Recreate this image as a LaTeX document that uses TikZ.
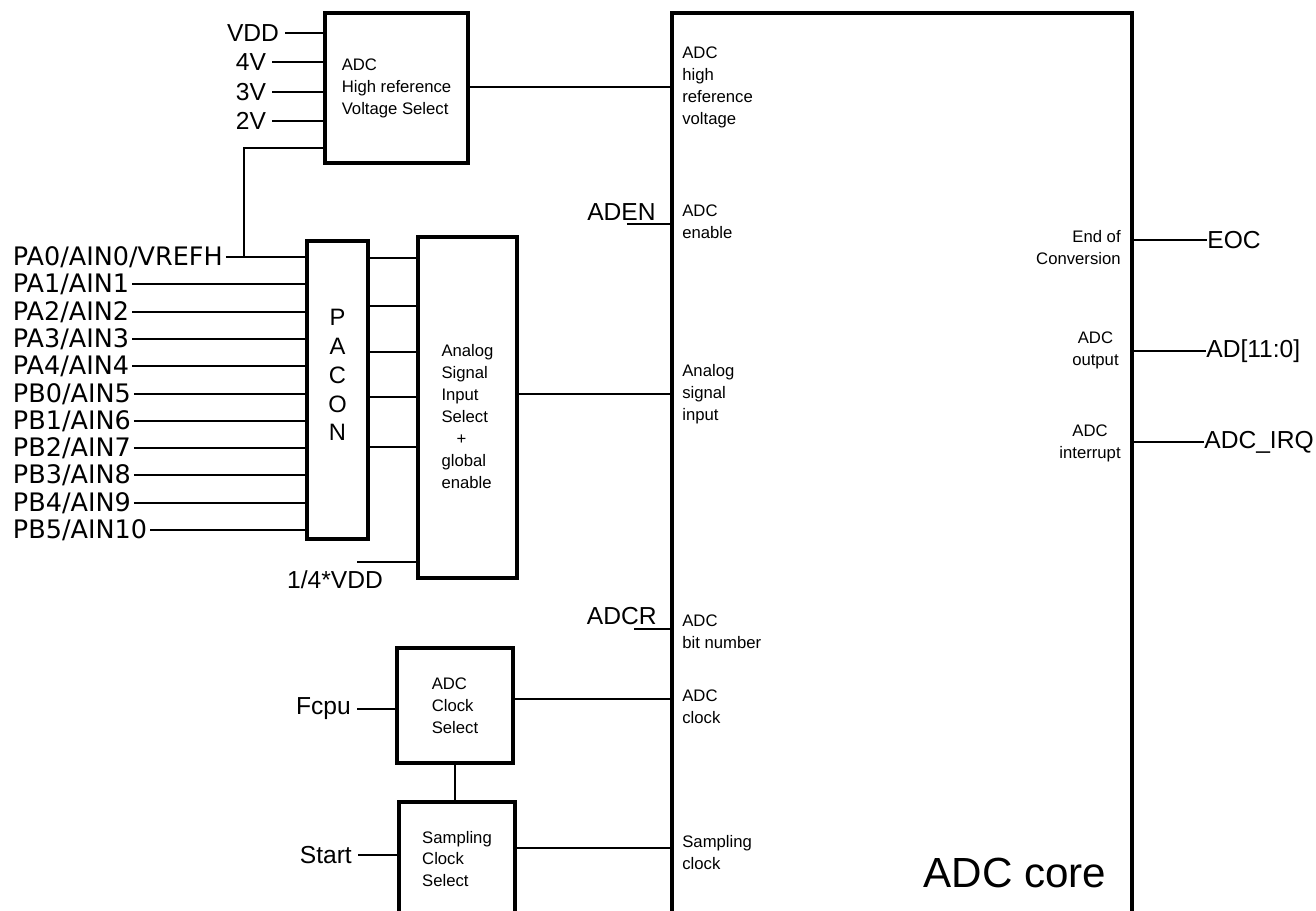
\documentclass[tikz,border=0pt]{standalone}
\usepackage{fontspec}
\setmainfont{Liberation Sans}
\newfontfamily\portfont{DejaVu Sans}
\usepackage{tikz}
\usetikzlibrary{positioning,calc}
\newlength\px
\setlength\px{0.02cm}
\tikzset{
  blk/.style={draw,line width=2.3pt,inner sep=0pt,font=\fontsize{9.5}{12.5}\selectfont,align=left},
  pin/.style={font=\fontsize{9.5}{12.5}\selectfont,align=left,inner sep=0pt},
  sig/.style={font=\fontsize{14}{16.8}\selectfont},
  port/.style={font=\portfont\fontsize{14.5}{17}\selectfont,inner sep=1.5pt,anchor=west},
  wire/.style={line width=1pt},
}
\begin{document}
\begin{tikzpicture}[x=0.02cm,y=-0.02cm]
\useasboundingbox (0,0) rectangle (1316,911);
\clip (0,0) rectangle (1316,911);
\node[blk,minimum width=143*\px,minimum height=150*\px] (vsel) at (396.5,88) {ADC\\High reference\\Voltage Select};
\node[blk,minimum width=61*\px,minimum height=298*\px,label={[align=center,font=\fontsize{13.5}{16.4}\selectfont,yshift=8.5pt]center:P\\A\\C\\O\\N}] (pacon) at (337.5,390) {};
\node[blk,minimum width=99*\px,minimum height=341*\px,label={[pin,yshift=-5pt]center:Analog\\Signal\\Input\\Select\\\hspace*{0.9em}+\\global\\enable}] (asel) at (467.5,407.5) {};
\node[blk,minimum width=116*\px,minimum height=115*\px] (clk) at (455,705.5) {ADC\\Clock\\Select};
\node[blk,minimum width=116*\px,minimum height=114*\px] (smp) at (457,859) {Sampling\\Clock\\Select};
\node[blk,minimum width=460*\px,minimum height=1000*\px] (core) at (902,513) {};
\node[font=\fontsize{24}{28}\selectfont,inner sep=0pt] (cname) at (1015,873) {ADC core};
\node[pin,anchor=west] (pref) at (682,87) {ADC\\high\\reference\\voltage};
\node[pin,anchor=west] (pen) at (682,222) {ADC\\enable};
\node[pin,anchor=west] (pain) at (682,394) {Analog\\signal\\input};
\node[pin,anchor=west] (pbit) at (682,632) {ADC\\bit number};
\node[pin,anchor=west] (pclk) at (682,707) {ADC\\clock};
\node[pin,anchor=west] (psmp) at (682,853) {Sampling\\clock};
\node[pin,anchor=east,align=right] (peoc) at (1121,248) {End of\\Conversion};
\node[pin,anchor=east,align=center] (pout) at (1119,350) {ADC\\output};
\node[pin,anchor=east,align=center] (pirq) at (1121,443) {ADC\\interrupt};
\node[sig] (v0) at (253,33) {VDD};
\node[sig] (v1) at (251,62) {4V};
\node[sig] (v2) at (251,92) {3V};
\node[sig] (v3) at (251,121) {2V};
\node[port] (p0) at (10,257) {PA0/AIN0/VREFH};
\node[port] (p1) at (10,284) {PA1/AIN1};
\node[port] (p2) at (10,312) {PA2/AIN2};
\node[port] (p3) at (10,339) {PA3/AIN3};
\node[port] (p4) at (10,366) {PA4/AIN4};
\node[port] (p5) at (10,394) {PB0/AIN5};
\node[port] (p6) at (10,421) {PB1/AIN6};
\node[port] (p7) at (10,448) {PB2/AIN7};
\node[port] (p8) at (10,475) {PB3/AIN8};
\node[port] (p9) at (10,503) {PB4/AIN9};
\node[port] (p10) at (10,530) {PB5/AIN10};
\node[sig] (q) at (335,580) {1/4*VDD};
\coordinate (qe) at (357,562);
\coordinate (t) at (244,257);
\node[sig,anchor=south east,inner xsep=0pt,inner ysep=2pt] (en) at (656,224) {ADEN};
\node[sig,anchor=south east,inner xsep=0pt,inner ysep=2pt] (cr) at (657,629) {ADCR};
\node[sig,anchor=east] (f) at (357,709) {Fcpu};
\node[sig,anchor=east] (s) at (358,855) {Start};
\node[sig,anchor=west,inner xsep=0pt] (eoc) at (1207,240) {EOC};
\node[sig,anchor=west,inner xsep=0pt] (ad) at (1206,351) {AD[11:0]};
\node[sig,anchor=west,inner xsep=0pt] (irq) at (1204,442) {ADC\_IRQ};
\draw[wire] (v0.east) -- (vsel.west |- v0.east);
\draw[wire] (v1.east) -- (vsel.west |- v1.east);
\draw[wire] (v2.east) -- (vsel.west |- v2.east);
\draw[wire] (v3.east) -- (vsel.west |- v3.east);
\draw[wire] (t) |- ($(vsel.south west)+(0,-17)$);
\draw[wire] (vsel.east |- pref.west) -- (core.west |- pref.west);
\draw[wire] (p0.east) -- (pacon.west |- p0.east);
\draw[wire] (p1.east) -- (pacon.west |- p1.east);
\draw[wire] (p2.east) -- (pacon.west |- p2.east);
\draw[wire] (p3.east) -- (pacon.west |- p3.east);
\draw[wire] (p4.east) -- (pacon.west |- p4.east);
\draw[wire] (p5.east) -- (pacon.west |- p5.east);
\draw[wire] (p6.east) -- (pacon.west |- p6.east);
\draw[wire] (p7.east) -- (pacon.west |- p7.east);
\draw[wire] (p8.east) -- (pacon.west |- p8.east);
\draw[wire] (p9.east) -- (pacon.west |- p9.east);
\draw[wire] (p10.east) -- (pacon.west |- p10.east);
\draw[wire] (pacon.east |- 0,258) -- (asel.west |- 0,258);
\draw[wire] (pacon.east |- 0,306) -- (asel.west |- 0,306);
\draw[wire] (pacon.east |- 0,352) -- (asel.west |- 0,352);
\draw[wire] (pacon.east |- 0,397) -- (asel.west |- 0,397);
\draw[wire] (pacon.east |- 0,447) -- (asel.west |- 0,447);
\draw[wire] (qe) -- (asel.west |- qe);
\draw[wire] (asel.east |- pain.west) -- (core.west |- pain.west);
\draw[wire] ([xshift=3pt]en.south) -- (core.west |- en.south);
\draw[wire] ([xshift=7pt]cr.south) -- (core.west |- cr.south);
\draw[wire] (f.east) -- (clk.west |- f.east);
\draw[wire] (s.east) -- (smp.west |- s.east);
\draw[wire] (clk.east |- 0,699) -- (core.west |- 0,699);
\draw[wire] (smp.east |- 0,848) -- (core.west |- 0,848);
\draw[wire] (clk.south) -- (clk.south |- smp.north);
\draw[wire] (core.east |- eoc.west) -- (eoc.west);
\draw[wire] (core.east |- ad.west) -- (ad.west);
\draw[wire] (core.east |- irq.west) -- (irq.west);
\end{tikzpicture}
\end{document}
